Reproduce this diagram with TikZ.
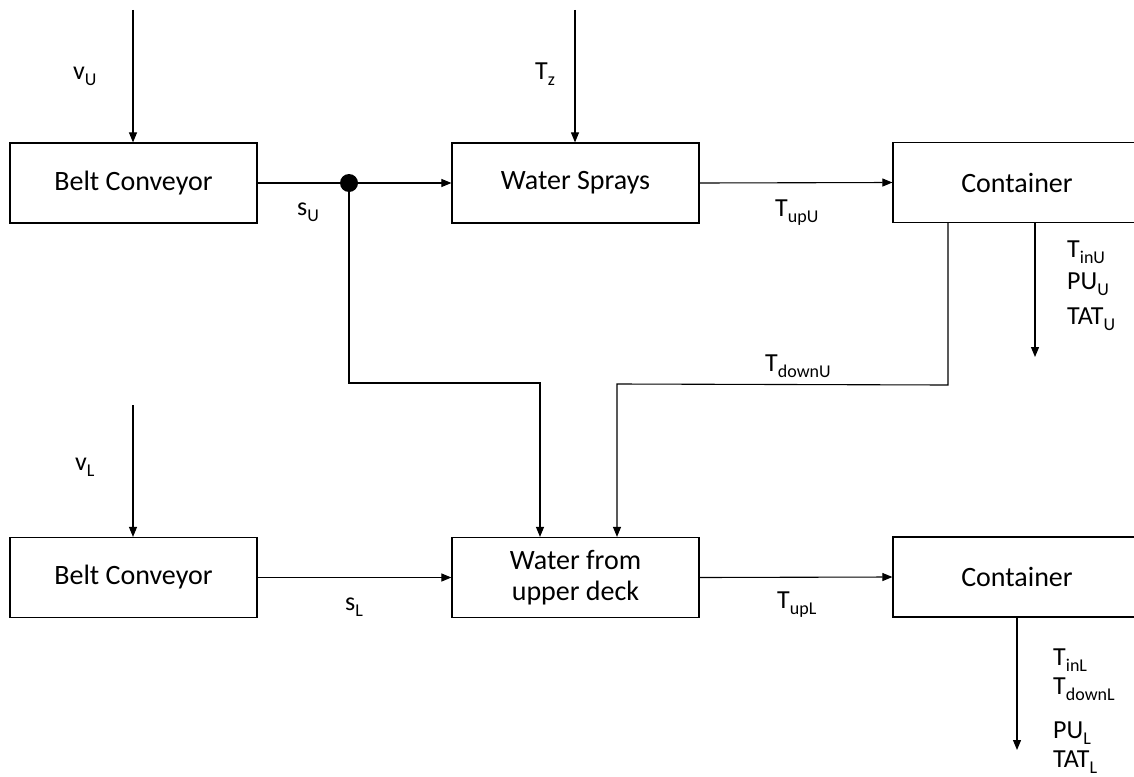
\documentclass[tikz,border=0pt]{standalone}
\usepackage{fontspec}
\setmainfont{Carlito}
\usetikzlibrary{arrows.meta,calc}
\newcommand{\sbs}[2]{#1\raisebox{-6.5pt}{\fontsize{18}{18}\selectfont #2}}
\tikzset{
  blk/.style={draw, line width=1.2pt, minimum width=247pt, minimum height=80pt, inner sep=0pt, align=center, font=\fontsize{28}{31}\selectfont},
  conn/.style={line width=1.1pt},
  arr/.style={conn, -{Triangle[length=10pt,width=8pt]}},
  lbl/.style={anchor=base west, inner sep=0pt, font=\fontsize{26}{28}\selectfont},
  jdot/.style={circle, fill=black, minimum size=18pt, inner sep=0pt}
}
\begin{document}
\begin{tikzpicture}[x=1pt,y=-1pt]
\useasboundingbox (0,0) rectangle (1134,776);
% boxes
\node[blk] (bcU) at (133.5,183) {Belt Conveyor};
\node[blk] (ws) at (575.5,183) {Water Sprays\vphantom{C}};
\node[blk, minimum width=248pt] (ctU) at (1017,182.5) {Container};
\node[blk] (bcL) at (133.5,577.5) {Belt Conveyor};
\node[blk] (wf) at (575.5,577.5) {Water from\\upper deck};
\node[blk, minimum width=248pt] (ctL) at (1017,577) {Container};
\node[jdot] (dot) at (349,183) {};
% free ends
\coordinate (vUtop) at (133,10);
\coordinate (Tztop) at (575,10);
\coordinate (vLtop) at (133,405);
\coordinate (bendL) at (540,383);
\coordinate (bendRa) at (948,385);
\coordinate (bendRb) at (617,384);
\coordinate (outU) at (1035,357);
\coordinate (outL) at (1017,750);
% connectors
\draw[arr] (vUtop) -- (bcU.north -| vUtop);
\draw[arr] (Tztop) -- (ws.north -| Tztop);
\draw[conn] (bcU.east) -- (dot);
\draw[arr] (dot) -- (ws.west);
\draw[arr] (ws.east) -- (ctU.west);
\draw[arr] (dot) |- (bendL) -- (wf.north -| bendL);
\draw[arr] (ctU.south -| bendRa) -- (bendRa) -- (bendRb) -- (wf.north -| bendRb);
\draw[arr] (ctU.south -| outU) -- (outU);
\draw[arr] (vLtop) -- (bcL.north -| vLtop);
\draw[arr] (bcL.east) -- (wf.west);
\draw[arr] (wf.east) -- (ctL.west);
\draw[arr] (ctL.south -| outL) -- (outL);
% labels
\node[lbl] (lvU) at (73,79) {\sbs{v}{U}};
\node[lbl] (lTz) at (535,79) {\sbs{T}{z}};
\node[lbl] (lsU) at (297,215) {\sbs{s}{U}};
\node[lbl] (lTupU) at (775,216) {\sbs{T}{upU}};
\node[lbl] (lTdownU) at (765,371) {\sbs{T}{downU}};
\node[lbl] (lTinU) at (1067,257) {\sbs{T}{inU}};
\node[lbl] (lPUU) at (1067,289) {\sbs{PU}{U}};
\node[lbl] (lTATU) at (1067,324) {\sbs{TAT}{U}};
\node[lbl] (lvL) at (75,470) {\sbs{v}{L}};
\node[lbl] (lsL) at (345,610) {\sbs{s}{L}};
\node[lbl] (lTupL) at (777,608) {\sbs{T}{upL}};
\node[lbl] (lTinL) at (1053,665) {\sbs{T}{inL}};
\node[lbl] (lTdownL) at (1053,694) {\sbs{T}{downL}};
\node[lbl] (lPUL) at (1053,738) {\sbs{PU}{L}};
\node[lbl] (lTATL) at (1053,767) {\sbs{TAT}{L}};
\end{tikzpicture}
\end{document}
